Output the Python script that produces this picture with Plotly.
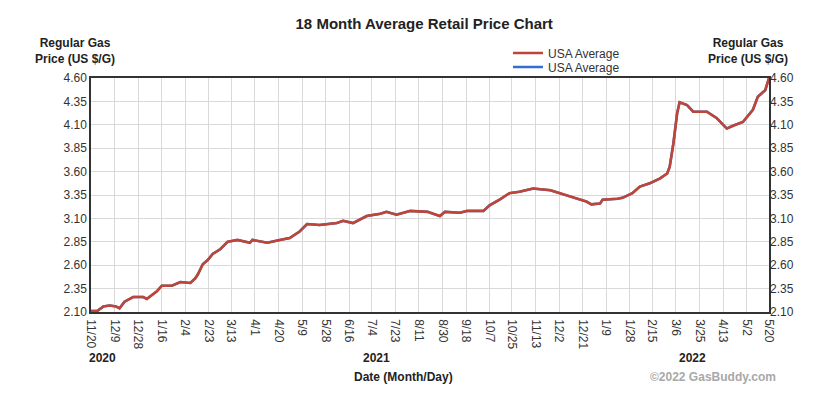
import plotly.graph_objects as go

# weekly-ish readings of the national average, regular gas
dates = ["2020-11-20", "2020-11-25", "2020-11-30", "2020-12-05", "2020-12-10", "2020-12-13",
         "2020-12-17", "2020-12-24", "2021-01-01", "2021-01-04", "2021-01-12", "2021-01-16",
         "2021-01-24", "2021-01-31", "2021-02-08", "2021-02-12", "2021-02-14", "2021-02-18",
         "2021-02-22", "2021-02-26", "2021-03-04", "2021-03-10", "2021-03-18", "2021-03-28",
         "2021-03-30", "2021-04-11", "2021-04-21", "2021-04-29", "2021-05-07", "2021-05-13",
         "2021-05-23", "2021-05-29", "2021-06-06", "2021-06-11", "2021-06-19", "2021-06-30",
         "2021-07-11", "2021-07-16", "2021-07-24", "2021-08-04", "2021-08-18", "2021-08-28",
         "2021-09-01", "2021-09-13", "2021-09-19", "2021-10-02", "2021-10-07", "2021-10-15",
         "2021-10-23", "2021-10-31", "2021-11-11", "2021-11-25", "2021-12-03", "2021-12-13",
         "2021-12-24", "2021-12-28", "2022-01-04", "2022-01-06", "2022-01-18", "2022-01-22",
         "2022-01-30", "2022-02-05", "2022-02-13", "2022-02-21", "2022-02-27", "2022-03-01",
         "2022-03-04", "2022-03-07", "2022-03-09", "2022-03-15", "2022-03-20", "2022-03-31",
         "2022-04-08", "2022-04-13", "2022-04-16", "2022-04-21", "2022-04-29", "2022-05-07",
         "2022-05-11", "2022-05-17", "2022-05-20"]
prices = [2.11, 2.11, 2.16, 2.17, 2.16, 2.14,
          2.21, 2.26, 2.26, 2.24, 2.32, 2.38,
          2.38, 2.42, 2.41, 2.46, 2.50, 2.61,
          2.655, 2.72, 2.77, 2.85, 2.87, 2.84,
          2.87, 2.84, 2.87, 2.89, 2.96, 3.04,
          3.03, 3.04, 3.05, 3.075, 3.05, 3.125,
          3.15, 3.17, 3.14, 3.18, 3.17, 3.125,
          3.17, 3.16, 3.18, 3.18, 3.24, 3.30,
          3.37, 3.385, 3.42, 3.40, 3.37, 3.325,
          3.28, 3.25, 3.26, 3.30, 3.31, 3.32,
          3.37, 3.44, 3.475, 3.525, 3.58, 3.65,
          3.90, 4.22, 4.34, 4.31, 4.24, 4.24,
          4.17, 4.10, 4.06, 4.09, 4.13, 4.26,
          4.40, 4.47, 4.60]

tick_dates = ["2020-11-20", "2020-12-09", "2020-12-28", "2021-01-16", "2021-02-04", "2021-02-23",
              "2021-03-13", "2021-04-01", "2021-04-20", "2021-05-09", "2021-05-28", "2021-06-16",
              "2021-07-04", "2021-07-23", "2021-08-11", "2021-08-30", "2021-09-18", "2021-10-07",
              "2021-10-25", "2021-11-13", "2021-12-02", "2021-12-21", "2022-01-09", "2022-01-28",
              "2022-02-15", "2022-03-06", "2022-03-25", "2022-04-13", "2022-05-02", "2022-05-20"]
tick_labels = ["11/20", "12/9", "12/28", "1/16", "2/4", "2/23", "3/13", "4/1", "4/20", "5/9",
               "5/28", "6/16", "7/4", "7/23", "8/11", "8/30", "9/18", "10/7", "10/25", "11/13",
               "12/2", "12/21", "1/9", "1/28", "2/15", "3/6", "3/25", "4/13", "5/2", "5/20"]
y_ticks = [2.10, 2.35, 2.60, 2.85, 3.10, 3.35, 3.60, 3.85, 4.10, 4.35, 4.60]

FONT = "Liberation Sans, Arial, sans-serif"

fig = go.Figure()
# blue series sits underneath the red one
fig.add_trace(go.Scatter(x=dates, y=prices, mode="lines", name="USA Average",
                         line=dict(color="#2f6fd0", width=2.5), yaxis="y", legend="legend2"))
fig.add_trace(go.Scatter(x=dates, y=prices, mode="lines", name="USA Average",
                         line=dict(color="#bf4536", width=2.6), yaxis="y2", legend="legend"))

yax = dict(range=[2.10, 4.60], tickvals=y_ticks, ticktext=["%.2f" % v for v in y_ticks],
           showgrid=True, gridcolor="#d9d9d9", gridwidth=1, zeroline=False,
           tickfont=dict(size=12, color="#333333", family=FONT), ticks="", ticklen=0)

leg = dict(x=0.615, xanchor="left", yanchor="middle", bgcolor="rgba(0,0,0,0)",
           font=dict(size=12, color="#333333", family=FONT), itemwidth=30)

fig.update_layout(
    width=840, height=416,
    margin=dict(l=91, r=71, t=78, b=104),
    paper_bgcolor="white", plot_bgcolor="white",
    font=dict(family=FONT, color="#222222"),
    title=dict(text="<b>18 Month Average Retail Price Chart</b>", x=0.505, xanchor="center",
               y=0.942, yanchor="middle", font=dict(size=15, color="#222222")),
    xaxis=dict(range=["2020-11-20", "2022-05-20"], tickvals=tick_dates, ticktext=tick_labels,
               tickangle=90, showgrid=True, gridcolor="#d9d9d9", gridwidth=1,
               showline=True, linecolor="#333333", linewidth=1.5, mirror=True,
               tickfont=dict(size=12, color="#333333", family=FONT), ticks="outside",
               ticklen=3, tickcolor="white"),
    yaxis=dict(**yax, side="left", showline=True, linecolor="#333333", linewidth=1.5, mirror=True),
    yaxis2=dict(**yax, side="right", overlaying="y"),
    showlegend=True,
    legend=dict(**leg, y=(312 - 53) / 234),
    legend2=dict(**leg, y=(312 - 67) / 234),
)

ann = dict(showarrow=False, font=dict(size=12, color="#222222", family=FONT))
fig.add_annotation(text="<b>Regular Gas<br>Price (US $/G)</b>", xref="paper", yref="paper",
                   x=(75 - 91) / 678, y=(312 - 51) / 234, xanchor="center", yanchor="middle", **ann)
fig.add_annotation(text="<b>Regular Gas<br>Price (US $/G)</b>", xref="paper", yref="paper",
                   x=(748 - 91) / 678, y=(312 - 51) / 234, xanchor="center", yanchor="middle", **ann)
fig.add_annotation(text="<b>2020</b>", xref="paper", yref="paper", x=(87 - 91) / 678,
                   y=(312 - 358) / 234, xanchor="left", yanchor="middle", **ann)
fig.add_annotation(text="<b>2021</b>", xref="paper", yref="paper", x=(376 - 91) / 678,
                   y=(312 - 358) / 234, xanchor="center", yanchor="middle", **ann)
fig.add_annotation(text="<b>2022</b>", xref="paper", yref="paper", x=(692 - 91) / 678,
                   y=(312 - 358) / 234, xanchor="center", yanchor="middle", **ann)
fig.add_annotation(text="<b>Date (Month/Day)</b>", xref="paper", yref="paper",
                   x=(403 - 91) / 678, y=(312 - 377) / 234, xanchor="center", yanchor="middle", **ann)
fig.add_annotation(text="<b>©2022 GasBuddy.com</b>", xref="paper", yref="paper",
                   x=(713 - 91) / 678, y=(312 - 377) / 234, xanchor="center", yanchor="middle",
                   showarrow=False, font=dict(size=12, color="#a8a8a8", family=FONT))

fig.write_html("out.html", config={"displayModeBar": False},
               post_script="document.body.style.margin='0';")
